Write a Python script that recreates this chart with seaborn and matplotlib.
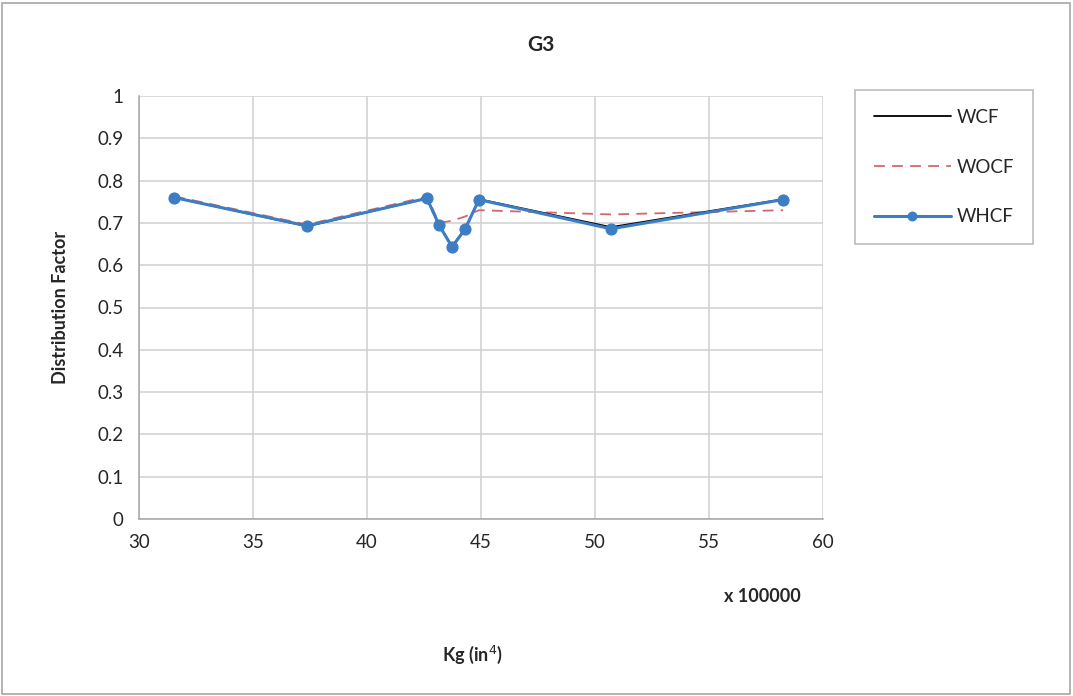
import pandas as pd
import seaborn as sns
import matplotlib.pyplot as plt
from matplotlib.patches import Rectangle

# Kg values (x 100000 in^4)
kg = [31.54, 37.37, 42.63, 43.16, 43.73, 44.30, 44.91, 50.70, 58.25]
wcf = [0.760, 0.692, 0.758, 0.695, 0.645, 0.686, 0.756, 0.690, 0.756]
wocf = [0.763, 0.696, 0.762, 0.700, 0.705, 0.715, 0.730, 0.720, 0.730]
whcf = [0.760, 0.693, 0.758, 0.695, 0.643, 0.685, 0.755, 0.686, 0.755]

x_ticks = [30, 35, 40, 45, 50, 55, 60]
y_ticks = [0, 0.1, 0.2, 0.3, 0.4, 0.5, 0.6, 0.7, 0.8, 0.9, 1]

df = pd.DataFrame({"Kg": kg, "WCF": wcf, "WOCF": wocf, "WHCF": whcf})

sns.set_style("white")
plt.rcParams["font.family"] = ["Lato", "DejaVu Sans"]

fig = plt.figure(figsize=(10.73, 6.96), dpi=100)
ax = fig.add_axes([139 / 1073, 1 - 519 / 696, (823 - 139) / 1073, (519 - 96) / 696])

sns.lineplot(data=df, x="Kg", y="WCF", ax=ax, color="black", linewidth=1.3,
             label="WCF", zorder=3)
sns.lineplot(data=df, x="Kg", y="WOCF", ax=ax, color="#D06A68", linewidth=1.3,
             linestyle=(0, (6, 4)), label="WOCF", zorder=2)
sns.lineplot(data=df, x="Kg", y="WHCF", ax=ax, color="#3C7DC4", linewidth=2.2,
             marker="o", markersize=8, markeredgecolor="#3C7DC4",
             label="WHCF", zorder=4)

ax.set_xlim(30, 60)
ax.set_ylim(0, 1)
ax.set_xticks(x_ticks)
ax.set_yticks(y_ticks)
ax.set_xticklabels([str(t) for t in x_ticks], fontsize=13.5)
ax.set_yticklabels([f"{t:g}" for t in y_ticks], fontsize=13.5)
ax.grid(True, color="#d0d0d0", linewidth=1.1)
for s in ["top", "right"]:
    ax.spines[s].set_visible(False)
for s in ["left", "bottom"]:
    ax.spines[s].set_color("#a6a6a6")
    ax.spines[s].set_linewidth(1.1)
ax.tick_params(axis="both", length=5, color="#a6a6a6", pad=6)

ax.set_xlabel("")
ax.set_ylabel("")
fig.text(60 / 1073, 1 - 307 / 696, "Distribution Factor", fontsize=13,
         fontweight="bold", rotation=90, ha="center", va="center")
fig.text(541 / 1073, 1 - 45 / 696, "G3", fontsize=15, fontweight="bold",
         ha="center", va="center")
fig.text(762 / 1073, 1 - 596 / 696, "x 100000", fontsize=13, fontweight="bold",
         ha="center", va="center")
fig.text(472 / 1073, 1 - 655 / 696, "Kg (in$^{4}$)", fontsize=13, fontweight="bold",
         ha="center", va="center")

handles, labels = ax.get_legend_handles_labels()
ax.get_legend().remove()
leg = fig.legend(handles, labels, loc="upper left",
                 bbox_to_anchor=(855 / 1073, 1 - 90 / 696), fontsize=13.5,
                 frameon=True, fancybox=False, edgecolor="#a6a6a6",
                 handlelength=4.1, labelspacing=1.75, borderpad=1.0,
                 handletextpad=0.3, borderaxespad=0, markerscale=0.8)
leg.get_frame().set_linewidth(1.1)

fig.patches.append(Rectangle((0.002, 0.003), 0.995, 0.993, transform=fig.transFigure,
                             fill=False, edgecolor="#a6a6a6", linewidth=1.2))

fig.savefig("out.png", dpi=100)
